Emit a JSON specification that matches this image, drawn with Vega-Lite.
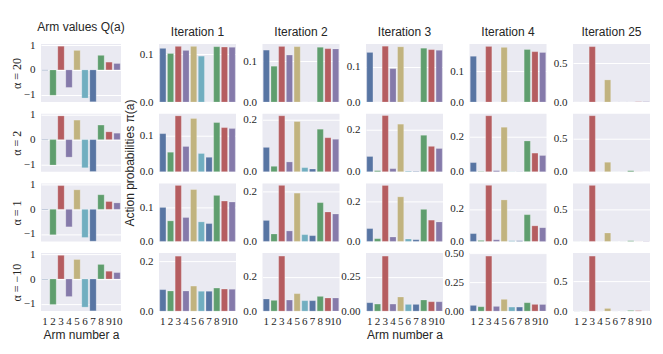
{
"$schema": "https://vega.github.io/schema/vega-lite/v6.json",
"padding": {"left": 10, "top": 21, "right": 5, "bottom": 5},
"datasets": {
"q": [{"arm":1,"v":-0.02},{"arm":2,"v":-1.03},{"arm":3,"v":0.96},{"arm":4,"v":-0.71},{"arm":5,"v":0.79},{"arm":6,"v":-1.14},{"arm":7,"v":-1.29},{"arm":8,"v":0.59},{"arm":9,"v":0.315},{"arm":10,"v":0.26}],
"p": [
{"a":"20","i":1,"arm":1,"p":0.1128},{"a":"20","i":1,"arm":2,"p":0.102},{"a":"20","i":1,"arm":3,"p":0.117},{"a":"20","i":1,"arm":4,"p":0.1085},{"a":"20","i":1,"arm":5,"p":0.117},{"a":"20","i":1,"arm":6,"p":0.0965},{"a":"20","i":1,"arm":7,"p":0},{"a":"20","i":1,"arm":8,"p":0.1163},{"a":"20","i":1,"arm":9,"p":0.1156},{"a":"20","i":1,"arm":10,"p":0.115},
{"a":"20","i":2,"arm":1,"p":0.127},{"a":"20","i":2,"arm":2,"p":0.0876},{"a":"20","i":2,"arm":3,"p":0.136},{"a":"20","i":2,"arm":4,"p":0.115},{"a":"20","i":2,"arm":5,"p":0.1355},{"a":"20","i":2,"arm":6,"p":0},{"a":"20","i":2,"arm":7,"p":0},{"a":"20","i":2,"arm":8,"p":0.134},{"a":"20","i":2,"arm":9,"p":0.1306},{"a":"20","i":2,"arm":10,"p":0.13},
{"a":"20","i":3,"arm":1,"p":0.141},{"a":"20","i":3,"arm":2,"p":0},{"a":"20","i":3,"arm":3,"p":0.1587},{"a":"20","i":3,"arm":4,"p":0.095},{"a":"20","i":3,"arm":5,"p":0.157},{"a":"20","i":3,"arm":6,"p":0},{"a":"20","i":3,"arm":7,"p":0},{"a":"20","i":3,"arm":8,"p":0.153},{"a":"20","i":3,"arm":9,"p":0.149},{"a":"20","i":3,"arm":10,"p":0.147},
{"a":"20","i":4,"arm":1,"p":0.149},{"a":"20","i":4,"arm":2,"p":0},{"a":"20","i":4,"arm":3,"p":0.181},{"a":"20","i":4,"arm":4,"p":0},{"a":"20","i":4,"arm":5,"p":0.178},{"a":"20","i":4,"arm":6,"p":0},{"a":"20","i":4,"arm":7,"p":0},{"a":"20","i":4,"arm":8,"p":0.171},{"a":"20","i":4,"arm":9,"p":0.164},{"a":"20","i":4,"arm":10,"p":0.1615},
{"a":"20","i":25,"arm":1,"p":0},{"a":"20","i":25,"arm":2,"p":0},{"a":"20","i":25,"arm":3,"p":0.711},{"a":"20","i":25,"arm":4,"p":0},{"a":"20","i":25,"arm":5,"p":0.284},{"a":"20","i":25,"arm":6,"p":0},{"a":"20","i":25,"arm":7,"p":0},{"a":"20","i":25,"arm":8,"p":0},{"a":"20","i":25,"arm":9,"p":0.003},{"a":"20","i":25,"arm":10,"p":0.002},
{"a":"2","i":1,"arm":1,"p":0.1056},{"a":"2","i":1,"arm":2,"p":0.054},{"a":"2","i":1,"arm":3,"p":0.155},{"a":"2","i":1,"arm":4,"p":0.07},{"a":"2","i":1,"arm":5,"p":0.1477},{"a":"2","i":1,"arm":6,"p":0.0505},{"a":"2","i":1,"arm":7,"p":0.04},{"a":"2","i":1,"arm":8,"p":0.1364},{"a":"2","i":1,"arm":9,"p":0.1224},{"a":"2","i":1,"arm":10,"p":0.1196},
{"a":"2","i":2,"arm":1,"p":0.093},{"a":"2","i":2,"arm":2,"p":0.0206},{"a":"2","i":2,"arm":3,"p":0.214},{"a":"2","i":2,"arm":4,"p":0.0374},{"a":"2","i":2,"arm":5,"p":0.192},{"a":"2","i":2,"arm":6,"p":0.0155},{"a":"2","i":2,"arm":7,"p":0.0103},{"a":"2","i":2,"arm":8,"p":0.1626},{"a":"2","i":2,"arm":9,"p":0.13},{"a":"2","i":2,"arm":10,"p":0.124},
{"a":"2","i":3,"arm":1,"p":0.0726},{"a":"2","i":3,"arm":2,"p":0.005},{"a":"2","i":3,"arm":3,"p":0.268},{"a":"2","i":3,"arm":4,"p":0.0145},{"a":"2","i":3,"arm":5,"p":0.227},{"a":"2","i":3,"arm":6,"p":0.003},{"a":"2","i":3,"arm":7,"p":0.002},{"a":"2","i":3,"arm":8,"p":0.174},{"a":"2","i":3,"arm":9,"p":0.121},{"a":"2","i":3,"arm":10,"p":0.111},
{"a":"2","i":4,"arm":1,"p":0.0524},{"a":"2","i":4,"arm":2,"p":0.002},{"a":"2","i":4,"arm":3,"p":0.322},{"a":"2","i":4,"arm":4,"p":0.006},{"a":"2","i":4,"arm":5,"p":0.256},{"a":"2","i":4,"arm":6,"p":0.001},{"a":"2","i":4,"arm":7,"p":0.001},{"a":"2","i":4,"arm":8,"p":0.177},{"a":"2","i":4,"arm":9,"p":0.107},{"a":"2","i":4,"arm":10,"p":0.093},
{"a":"2","i":25,"arm":1,"p":0.001},{"a":"2","i":25,"arm":2,"p":0.001},{"a":"2","i":25,"arm":3,"p":0.847},{"a":"2","i":25,"arm":4,"p":0.001},{"a":"2","i":25,"arm":5,"p":0.143},{"a":"2","i":25,"arm":6,"p":0.001},{"a":"2","i":25,"arm":7,"p":0.001},{"a":"2","i":25,"arm":8,"p":0.015},{"a":"2","i":25,"arm":9,"p":0.001},{"a":"2","i":25,"arm":10,"p":0.001},
{"a":"1","i":1,"arm":1,"p":0.099},{"a":"1","i":1,"arm":2,"p":0.0598},{"a":"1","i":1,"arm":3,"p":0.163},{"a":"1","i":1,"arm":4,"p":0.0696},{"a":"1","i":1,"arm":5,"p":0.151},{"a":"1","i":1,"arm":6,"p":0.0569},{"a":"1","i":1,"arm":7,"p":0.052},{"a":"1","i":1,"arm":8,"p":0.134},{"a":"1","i":1,"arm":9,"p":0.1176},{"a":"1","i":1,"arm":10,"p":0.1147},
{"a":"1","i":2,"arm":1,"p":0.0838},{"a":"1","i":2,"arm":2,"p":0.0297},{"a":"1","i":2,"arm":3,"p":0.224},{"a":"1","i":2,"arm":4,"p":0.0419},{"a":"1","i":2,"arm":5,"p":0.193},{"a":"1","i":2,"arm":6,"p":0.027},{"a":"1","i":2,"arm":7,"p":0.023},{"a":"1","i":2,"arm":8,"p":0.155},{"a":"1","i":2,"arm":9,"p":0.1176},{"a":"1","i":2,"arm":10,"p":0.1095},
{"a":"1","i":3,"arm":1,"p":0.0644},{"a":"1","i":3,"arm":2,"p":0.0136},{"a":"1","i":3,"arm":3,"p":0.281},{"a":"1","i":3,"arm":4,"p":0.022},{"a":"1","i":3,"arm":5,"p":0.224},{"a":"1","i":3,"arm":6,"p":0.012},{"a":"1","i":3,"arm":7,"p":0.0085},{"a":"1","i":3,"arm":8,"p":0.161},{"a":"1","i":3,"arm":9,"p":0.1068},{"a":"1","i":3,"arm":10,"p":0.098},
{"a":"1","i":4,"arm":1,"p":0.048},{"a":"1","i":4,"arm":2,"p":0.006},{"a":"1","i":4,"arm":3,"p":0.346},{"a":"1","i":4,"arm":4,"p":0.01},{"a":"1","i":4,"arm":5,"p":0.256},{"a":"1","i":4,"arm":6,"p":0.004},{"a":"1","i":4,"arm":7,"p":0.004},{"a":"1","i":4,"arm":8,"p":0.165},{"a":"1","i":4,"arm":9,"p":0.096},{"a":"1","i":4,"arm":10,"p":0.085},
{"a":"1","i":25,"arm":1,"p":0.001},{"a":"1","i":25,"arm":2,"p":0.001},{"a":"1","i":25,"arm":3,"p":0.865},{"a":"1","i":25,"arm":4,"p":0.001},{"a":"1","i":25,"arm":5,"p":0.13},{"a":"1","i":25,"arm":6,"p":0.001},{"a":"1","i":25,"arm":7,"p":0.001},{"a":"1","i":25,"arm":8,"p":0.01},{"a":"1","i":25,"arm":9,"p":0.001},{"a":"1","i":25,"arm":10,"p":0.001},
{"a":"-10","i":1,"arm":1,"p":0.0865},{"a":"-10","i":1,"arm":2,"p":0.081},{"a":"-10","i":1,"arm":3,"p":0.2216},{"a":"-10","i":1,"arm":4,"p":0.081},{"a":"-10","i":1,"arm":5,"p":0.101},{"a":"-10","i":1,"arm":6,"p":0.08},{"a":"-10","i":1,"arm":7,"p":0.08},{"a":"-10","i":1,"arm":8,"p":0.093},{"a":"-10","i":1,"arm":9,"p":0.089},{"a":"-10","i":1,"arm":10,"p":0.088},
{"a":"-10","i":2,"arm":1,"p":0.0706},{"a":"-10","i":2,"arm":2,"p":0.0627},{"a":"-10","i":2,"arm":3,"p":0.3216},{"a":"-10","i":2,"arm":4,"p":0.0647},{"a":"-10","i":2,"arm":5,"p":0.102},{"a":"-10","i":2,"arm":6,"p":0.061},{"a":"-10","i":2,"arm":7,"p":0.061},{"a":"-10","i":2,"arm":8,"p":0.086},{"a":"-10","i":2,"arm":9,"p":0.0765},{"a":"-10","i":2,"arm":10,"p":0.0765},
{"a":"-10","i":3,"arm":1,"p":0.0613},{"a":"-10","i":3,"arm":2,"p":0.0515},{"a":"-10","i":3,"arm":3,"p":0.402},{"a":"-10","i":3,"arm":4,"p":0.0515},{"a":"-10","i":3,"arm":5,"p":0.103},{"a":"-10","i":3,"arm":6,"p":0.049},{"a":"-10","i":3,"arm":7,"p":0.049},{"a":"-10","i":3,"arm":8,"p":0.081},{"a":"-10","i":3,"arm":9,"p":0.0686},{"a":"-10","i":3,"arm":10,"p":0.0686},
{"a":"-10","i":4,"arm":1,"p":0.0494},{"a":"-10","i":4,"arm":2,"p":0.0378},{"a":"-10","i":4,"arm":3,"p":0.477},{"a":"-10","i":4,"arm":4,"p":0.0407},{"a":"-10","i":4,"arm":5,"p":0.102},{"a":"-10","i":4,"arm":6,"p":0.035},{"a":"-10","i":4,"arm":7,"p":0.035},{"a":"-10","i":4,"arm":8,"p":0.0727},{"a":"-10","i":4,"arm":9,"p":0.058},{"a":"-10","i":4,"arm":10,"p":0.058},
{"a":"-10","i":25,"arm":1,"p":0.002},{"a":"-10","i":25,"arm":2,"p":0.002},{"a":"-10","i":25,"arm":3,"p":0.932},{"a":"-10","i":25,"arm":4,"p":0.001},{"a":"-10","i":25,"arm":5,"p":0.045},{"a":"-10","i":25,"arm":6,"p":0.001},{"a":"-10","i":25,"arm":7,"p":0.001},{"a":"-10","i":25,"arm":8,"p":0.011},{"a":"-10","i":25,"arm":9,"p":0.008},{"a":"-10","i":25,"arm":10,"p":0.002}
]
},
"spacing": -1,
"hconcat": [
{
"vconcat": [
{"title":"Arm values Q(a)","width":80,"height":58,"data":{"name":"q"},"mark":"bar","encoding":{"x":{"field":"arm","type":"ordinal","axis":null},"y":{"field":"v","type":"quantitative","scale":{"domain":[-1.3,1.05],"nice":false},"axis":{"values":[-1,0,1],"title":"α = 20","titleFont":"Liberation Serif","titleFontSize":12,"titlePadding":0}},"color":{"field":"arm","type":"ordinal","legend":null}}},
{"width":80,"height":58,"data":{"name":"q"},"mark":"bar","encoding":{"x":{"field":"arm","type":"ordinal","axis":null},"y":{"field":"v","type":"quantitative","scale":{"domain":[-1.3,1.05],"nice":false},"axis":{"values":[-1,0,1],"title":"α = 2","titleFont":"Liberation Serif","titleFontSize":12,"titlePadding":0}},"color":{"field":"arm","type":"ordinal","legend":null}}},
{"width":80,"height":58,"data":{"name":"q"},"mark":"bar","encoding":{"x":{"field":"arm","type":"ordinal","axis":null},"y":{"field":"v","type":"quantitative","scale":{"domain":[-1.3,1.05],"nice":false},"axis":{"values":[-1,0,1],"title":"α = 1","titleFont":"Liberation Serif","titleFontSize":12,"titlePadding":0}},"color":{"field":"arm","type":"ordinal","legend":null}}},
{"width":80,"height":58,"data":{"name":"q"},"mark":"bar","encoding":{"x":{"field":"arm","type":"ordinal","axis":{"title":"Arm number a"}},"y":{"field":"v","type":"quantitative","scale":{"domain":[-1.3,1.05],"nice":false},"axis":{"values":[-1,0,1],"title":"α = −10","titleFont":"Liberation Serif","titleFontSize":12,"titlePadding":0}},"color":{"field":"arm","type":"ordinal","legend":null}}}
],
"spacing": 11.7,
"bounds": "flush"
},
{
"title": {"text": "Action probabilities π(a)", "orient": "left", "anchor": "middle", "frame": "bounds", "offset": 2, "fontSize": 12, "dx": 20},
"columns": 5,
"spacing": {"row": 11.7, "column": 26.5},
"bounds": "flush",
"concat": [
{"title":"Iteration 1","width":77,"height":58,"data":{"name":"p"},"transform":[{"filter":"datum.a=='20'&&datum.i==1"}],"mark":"bar","encoding":{"x":{"field":"arm","type":"ordinal","axis":null},"y":{"field":"p","type":"quantitative","scale":{"domain":[0,0.122],"nice":false},"axis":{"values":[0,0.1],"format":".1f","title":null}},"color":{"field":"arm","type":"ordinal","legend":null}}},
{"title":"Iteration 2","width":77,"height":58,"data":{"name":"p"},"transform":[{"filter":"datum.a=='20'&&datum.i==2"}],"mark":"bar","encoding":{"x":{"field":"arm","type":"ordinal","axis":null},"y":{"field":"p","type":"quantitative","scale":{"domain":[0,0.142],"nice":false},"axis":{"values":[0,0.1],"format":".1f","title":null}},"color":{"field":"arm","type":"ordinal","legend":null}}},
{"title":"Iteration 3","width":77,"height":58,"data":{"name":"p"},"transform":[{"filter":"datum.a=='20'&&datum.i==3"}],"mark":"bar","encoding":{"x":{"field":"arm","type":"ordinal","axis":null},"y":{"field":"p","type":"quantitative","scale":{"domain":[0,0.165],"nice":false},"axis":{"values":[0,0.1],"format":".1f","title":null}},"color":{"field":"arm","type":"ordinal","legend":null}}},
{"title":"Iteration 4","width":77,"height":58,"data":{"name":"p"},"transform":[{"filter":"datum.a=='20'&&datum.i==4"}],"mark":"bar","encoding":{"x":{"field":"arm","type":"ordinal","axis":null},"y":{"field":"p","type":"quantitative","scale":{"domain":[0,0.189],"nice":false},"axis":{"values":[0,0.1],"format":".1f","title":null}},"color":{"field":"arm","type":"ordinal","legend":null}}},
{"title":"Iteration 25","width":77,"height":58,"data":{"name":"p"},"transform":[{"filter":"datum.a=='20'&&datum.i==25"}],"mark":"bar","encoding":{"x":{"field":"arm","type":"ordinal","axis":null},"y":{"field":"p","type":"quantitative","scale":{"domain":[0,0.745],"nice":false},"axis":{"values":[0,0.5],"format":".1f","title":null}},"color":{"field":"arm","type":"ordinal","legend":null}}},

{"width":77,"height":58,"data":{"name":"p"},"transform":[{"filter":"datum.a=='2'&&datum.i==1"}],"mark":"bar","encoding":{"x":{"field":"arm","type":"ordinal","axis":null},"y":{"field":"p","type":"quantitative","scale":{"domain":[0,0.161],"nice":false},"axis":{"values":[0,0.1],"format":".1f","title":null}},"color":{"field":"arm","type":"ordinal","legend":null}}},
{"width":77,"height":58,"data":{"name":"p"},"transform":[{"filter":"datum.a=='2'&&datum.i==2"}],"mark":"bar","encoding":{"x":{"field":"arm","type":"ordinal","axis":null},"y":{"field":"p","type":"quantitative","scale":{"domain":[0,0.222],"nice":false},"axis":{"values":[0,0.2],"format":".1f","title":null}},"color":{"field":"arm","type":"ordinal","legend":null}}},
{"width":77,"height":58,"data":{"name":"p"},"transform":[{"filter":"datum.a=='2'&&datum.i==3"}],"mark":"bar","encoding":{"x":{"field":"arm","type":"ordinal","axis":null},"y":{"field":"p","type":"quantitative","scale":{"domain":[0,0.277],"nice":false},"axis":{"values":[0,0.2],"format":".1f","title":null}},"color":{"field":"arm","type":"ordinal","legend":null}}},
{"width":77,"height":58,"data":{"name":"p"},"transform":[{"filter":"datum.a=='2'&&datum.i==4"}],"mark":"bar","encoding":{"x":{"field":"arm","type":"ordinal","axis":null},"y":{"field":"p","type":"quantitative","scale":{"domain":[0,0.334],"nice":false},"axis":{"values":[0,0.2],"format":".1f","title":null}},"color":{"field":"arm","type":"ordinal","legend":null}}},
{"width":77,"height":58,"data":{"name":"p"},"transform":[{"filter":"datum.a=='2'&&datum.i==25"}],"mark":"bar","encoding":{"x":{"field":"arm","type":"ordinal","axis":null},"y":{"field":"p","type":"quantitative","scale":{"domain":[0,0.878],"nice":false},"axis":{"values":[0,0.5],"format":".1f","title":null}},"color":{"field":"arm","type":"ordinal","legend":null}}},

{"width":77,"height":58,"data":{"name":"p"},"transform":[{"filter":"datum.a=='1'&&datum.i==1"}],"mark":"bar","encoding":{"x":{"field":"arm","type":"ordinal","axis":null},"y":{"field":"p","type":"quantitative","scale":{"domain":[0,0.169],"nice":false},"axis":{"values":[0,0.1],"format":".1f","title":null}},"color":{"field":"arm","type":"ordinal","legend":null}}},
{"width":77,"height":58,"data":{"name":"p"},"transform":[{"filter":"datum.a=='1'&&datum.i==2"}],"mark":"bar","encoding":{"x":{"field":"arm","type":"ordinal","axis":null},"y":{"field":"p","type":"quantitative","scale":{"domain":[0,0.232],"nice":false},"axis":{"values":[0,0.2],"format":".1f","title":null}},"color":{"field":"arm","type":"ordinal","legend":null}}},
{"width":77,"height":58,"data":{"name":"p"},"transform":[{"filter":"datum.a=='1'&&datum.i==3"}],"mark":"bar","encoding":{"x":{"field":"arm","type":"ordinal","axis":null},"y":{"field":"p","type":"quantitative","scale":{"domain":[0,0.2915],"nice":false},"axis":{"values":[0,0.2],"format":".1f","title":null}},"color":{"field":"arm","type":"ordinal","legend":null}}},
{"width":77,"height":58,"data":{"name":"p"},"transform":[{"filter":"datum.a=='1'&&datum.i==4"}],"mark":"bar","encoding":{"x":{"field":"arm","type":"ordinal","axis":null},"y":{"field":"p","type":"quantitative","scale":{"domain":[0,0.358],"nice":false},"axis":{"values":[0,0.2],"format":".1f","title":null}},"color":{"field":"arm","type":"ordinal","legend":null}}},
{"width":77,"height":58,"data":{"name":"p"},"transform":[{"filter":"datum.a=='1'&&datum.i==25"}],"mark":"bar","encoding":{"x":{"field":"arm","type":"ordinal","axis":null},"y":{"field":"p","type":"quantitative","scale":{"domain":[0,0.896],"nice":false},"axis":{"values":[0,0.5],"format":".1f","title":null}},"color":{"field":"arm","type":"ordinal","legend":null}}},

{"width":77,"height":58,"data":{"name":"p"},"transform":[{"filter":"datum.a=='-10'&&datum.i==1"}],"mark":"bar","encoding":{"x":{"field":"arm","type":"ordinal","axis":{"title":null}},"y":{"field":"p","type":"quantitative","scale":{"domain":[0,0.234],"nice":false},"axis":{"values":[0,0.2],"format":".1f","title":null}},"color":{"field":"arm","type":"ordinal","legend":null}}},
{"width":77,"height":58,"data":{"name":"p"},"transform":[{"filter":"datum.a=='-10'&&datum.i==2"}],"mark":"bar","encoding":{"x":{"field":"arm","type":"ordinal","axis":{"title":null}},"y":{"field":"p","type":"quantitative","scale":{"domain":[0,0.339],"nice":false},"axis":{"values":[0,0.2],"format":".1f","title":null}},"color":{"field":"arm","type":"ordinal","legend":null}}},
{"width":77,"height":58,"data":{"name":"p"},"transform":[{"filter":"datum.a=='-10'&&datum.i==3"}],"mark":"bar","encoding":{"x":{"field":"arm","type":"ordinal","axis":{"title":"Arm number a"}},"y":{"field":"p","type":"quantitative","scale":{"domain":[0,0.424],"nice":false},"axis":{"values":[0,0.25],"format":".2f","title":null}},"color":{"field":"arm","type":"ordinal","legend":null}}},
{"width":77,"height":58,"data":{"name":"p"},"transform":[{"filter":"datum.a=='-10'&&datum.i==4"}],"mark":"bar","encoding":{"x":{"field":"arm","type":"ordinal","axis":{"title":null}},"y":{"field":"p","type":"quantitative","scale":{"domain":[0,0.503],"nice":false},"axis":{"values":[0,0.25,0.5],"format":".2f","title":null}},"color":{"field":"arm","type":"ordinal","legend":null}}},
{"width":77,"height":58,"data":{"name":"p"},"transform":[{"filter":"datum.a=='-10'&&datum.i==25"}],"mark":"bar","encoding":{"x":{"field":"arm","type":"ordinal","axis":{"title":null}},"y":{"field":"p","type":"quantitative","scale":{"domain":[0,0.983],"nice":false},"axis":{"values":[0,0.5],"format":".1f","title":null}},"color":{"field":"arm","type":"ordinal","legend":null}}}
]
}
],
"config": {
"background": "white",
"view": {"fill": "#EAEAF2", "stroke": null},
"bar": {"stroke": "#ffffff", "strokeOpacity": 0.35, "strokeWidth": 0.6},
"scale": {"bandPaddingInner": 0.2, "bandPaddingOuter": 0.1},
"range": {"ordinal": ["#5875A3", "#5F9E6E", "#B55D60", "#857AAA", "#C1B37F", "#71AEC0", "#5875A3", "#5F9E6E", "#B55D60", "#857AAA"]},
"axis": {"domain": false, "ticks": false, "gridColor": "#ffffff", "gridWidth": 1, "labelFont": "Liberation Serif", "labelFontSize": 11, "labelColor": "#262626", "titleFont": "Liberation Sans", "titleFontWeight": "normal", "titleFontSize": 12, "titleColor": "#262626"},
"axisX": {"grid": false, "labelAngle": 0, "labelPadding": 4, "titlePadding": 3},
"axisY": {"labelPadding": 6, "titlePadding": 3},
"title": {"font": "Liberation Sans", "fontSize": 12, "fontWeight": "normal", "color": "#262626", "offset": 5, "anchor": "middle", "frame": "group"}
}
}
